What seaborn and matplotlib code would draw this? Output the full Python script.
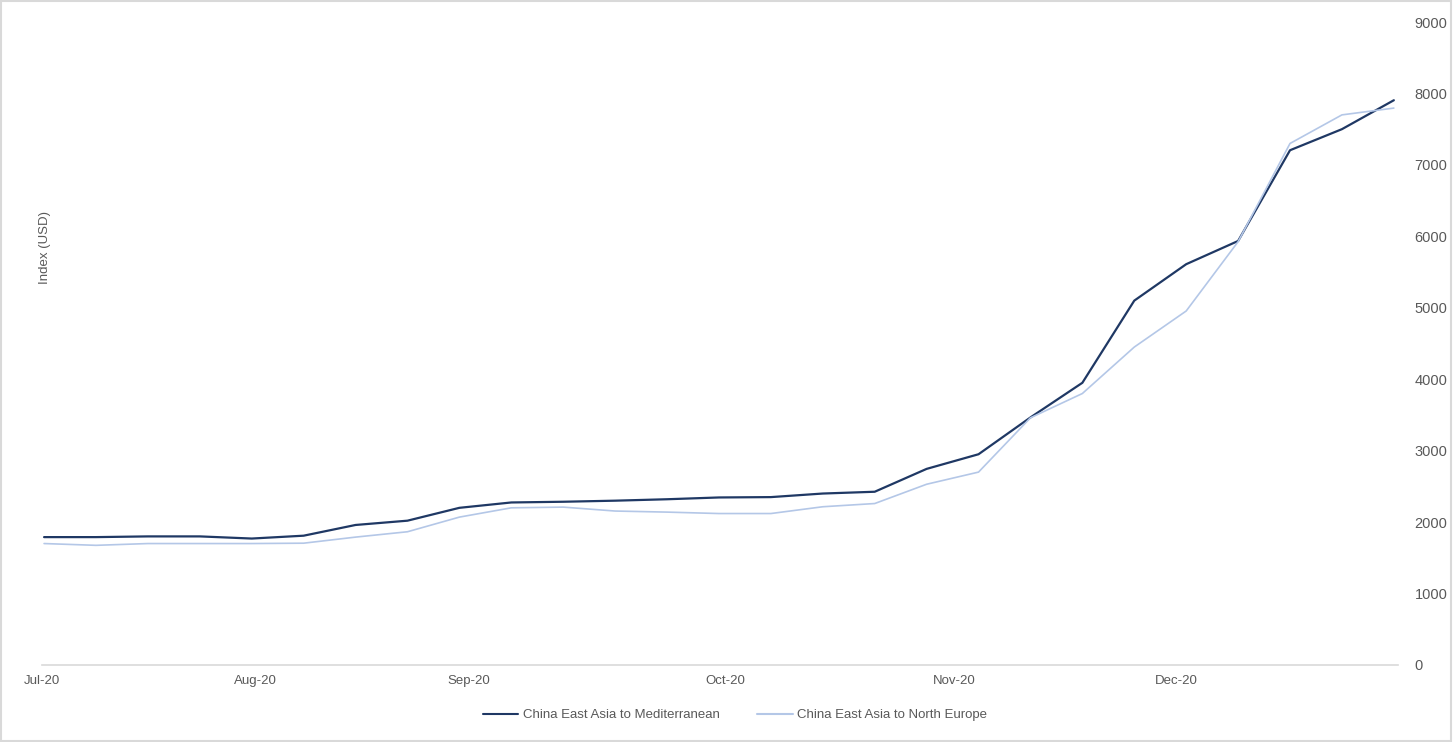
import pandas as pd
import matplotlib.pyplot as plt
import seaborn as sns
from matplotlib.patches import Rectangle

# weekly index values, Jul-20 to end of Dec-20
week = list(range(27))
mediterranean = [1790, 1790, 1800, 1800, 1770, 1810, 1960, 2020, 2200,
                 2275, 2285, 2300, 2320, 2345, 2350, 2400, 2425,
                 2745, 2950, 3465, 3950, 5100, 5610, 5935, 7205, 7500, 7905]
north_europe = [1700, 1675, 1700, 1700, 1700, 1705, 1790, 1865, 2070,
                2200, 2210, 2155, 2140, 2120, 2120, 2215, 2260,
                2530, 2700, 3460, 3800, 4450, 4955, 5925, 7300, 7700, 7795]
series_names = ["China East Asia to Mediterranean", "China East Asia to North Europe"]
month_labels = ["Jul-20", "Aug-20", "Sep-20", "Oct-20", "Nov-20", "Dec-20"]
month_pos = [-0.04, 4.08, 8.19, 13.12, 17.53, 21.81]
y_ticks = list(range(0, 9001, 1000))

df = pd.DataFrame({
    "week": week * 2,
    "value": mediterranean + north_europe,
    "route": [series_names[0]] * len(week) + [series_names[1]] * len(week),
})

sns.set_style("white")
plt.rcParams["font.family"] = ["Liberation Sans", "DejaVu Sans"]

grey = "#595959"
fig = plt.figure(figsize=(14.54, 7.42), dpi=100)
ax = fig.add_axes([42 / 1454, 1 - 665 / 742, (1398 - 42) / 1454, (665 - 22) / 742])

palette = {series_names[0]: "#1f3864", series_names[1]: "#b4c7e7"}
sns.lineplot(data=df, x="week", y="value", hue="route", palette=palette, ax=ax)
for line, lw in zip(ax.get_lines(), [1.6, 1.2]):
    line.set_linewidth(lw)

ax.set_xlim(-0.04, 26.08)
ax.set_ylim(0, 9000)
ax.set_xticks(month_pos)
ax.set_xticklabels(month_labels, color=grey, fontsize=9.5)
ax.set_yticks(y_ticks)
ax.yaxis.tick_right()
ax.set_yticklabels([str(v) for v in y_ticks], color=grey, fontsize=10.5)
ax.tick_params(axis="y", length=0, pad=12)
ax.tick_params(axis="x", length=4, color="#d9d9d9", pad=3, direction="out")
ax.set_xlabel("")
ax.set_ylabel("")
for side in ["top", "left", "right"]:
    ax.spines[side].set_visible(False)
ax.spines["bottom"].set_color("#d9d9d9")
ax.spines["bottom"].set_linewidth(1.2)

handles, labels = ax.get_legend_handles_labels()
ax.get_legend().remove()
fig.legend(handles, labels, loc="center", bbox_to_anchor=(735 / 1454, 1 - 715 / 742),
           ncol=2, frameon=False, fontsize=9.5, handlelength=2.7, handletextpad=0.35,
           columnspacing=2.8, labelcolor=grey)

fig.text(45 / 1454, 1 - 247 / 742, "Index (USD)", rotation=90, ha="center", va="center",
         color=grey, fontsize=9.5)

fig.patches.append(Rectangle((0.001, 0.001), 0.997, 0.997, transform=fig.transFigure,
                             fill=False, edgecolor="#d9d9d9", linewidth=1.5))

fig.savefig("out.png", dpi=100)
